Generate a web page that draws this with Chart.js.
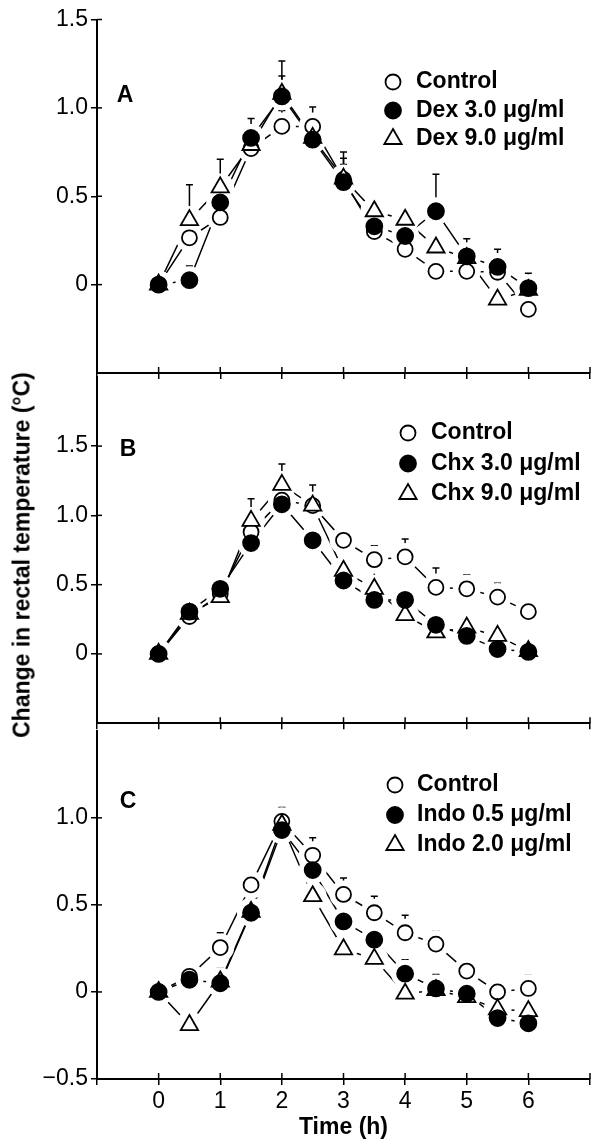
<!DOCTYPE html>
<html><head><meta charset="utf-8">
<script src="https://cdn.jsdelivr.net/npm/chart.js@4.4.1/dist/chart.umd.min.js"></script>
<style>
html,body{margin:0;padding:0;background:#fff;width:604px;height:1143px;overflow:hidden;position:relative;}
.pane{position:absolute;left:0;width:604px;}
canvas{display:block;}
#ytitle{position:absolute;left:22px;top:555px;font:bold 23px "Liberation Sans",Arial,sans-serif;white-space:nowrap;transform:translate(-50%,-50%) rotate(-90deg);color:#000;}
</style></head><body>
<div class="pane" style="top:0px;height:392px"><canvas id="cA" width="604" height="392"></canvas></div>
<div class="pane" style="top:360px;height:380px"><canvas id="cB" width="604" height="380"></canvas></div>
<div class="pane" style="top:714px;height:429px"><canvas id="cC" width="604" height="429"></canvas></div>
<div id="ytitle">Change in rectal temperature (°C)</div>
<script>
// ---- data ----
const times = [0,0.5,1,1.5,2,2.5,3,3.5,4,4.5,5,5.5,6];
const xTickVals = [-1,0,1,2,3,4,5,6,7];
const xTickLabels = ['', '0','1','2','3','4','5','6',''];

const aLabels = ['Control','Dex 3.0 μg/ml','Dex 9.0 μg/ml'];
const aControl = [0,0.265,0.38,0.77,0.895,0.895,0.595,0.30,0.20,0.075,0.075,0.07,-0.14];
const aDex3    = [0,0.025,0.465,0.83,1.065,0.82,0.58,0.33,0.275,0.415,0.16,0.10,-0.02];
const aDex9    = [0,0.365,0.55,0.79,1.08,0.83,0.60,0.415,0.367,0.21,0.15,-0.085,-0.03];
const aControlErr = [0,0.04,0.04,0.08,0.09,0.11,0.12,0.05,0.04,0.04,0.04,0.04,0.04];
const aDex3Err    = [0,0.08,0.06,0.11,0.20,0.06,0.10,0.05,0.05,0.21,0.10,0.10,0.085];
const aDex9Err    = [0,0.20,0.16,0.10,0.10,0.08,0.15,0.06,0.05,0.05,0.05,0.05,0.05];
const aYTicks = [0,0.5,1.0,1.5];

const bLabels = ['Control','Chx 3.0 μg/ml','Chx 9.0 μg/ml'];
const bControl = [0,0.27,0.435,0.88,1.11,1.07,0.82,0.68,0.70,0.48,0.47,0.41,0.305];
const bChx3    = [0,0.305,0.47,0.80,1.08,0.82,0.53,0.39,0.39,0.21,0.13,0.035,0.015];
const bChx9    = [0,0.29,0.41,0.96,1.22,1.07,0.60,0.47,0.28,0.155,0.19,0.13,0.02];
const bControlErr = [0,0.03,0.05,0.05,0.05,0.15,0.05,0.10,0.13,0.14,0.10,0.10,0.05];
const bChx3Err    = [0,0.04,0.08,0.04,0.04,0.04,0.04,0.04,0.04,0.04,0.04,0.04,0.04];
const bChx9Err    = [0,0.04,0.05,0.16,0.15,0.05,0.05,0.12,0.04,0.04,0.04,0.04,0.04];
const bYTicks = [0,0.5,1.0,1.5];

const cLabels = ['Control','Indo 0.5 μg/ml','Indo 2.0 μg/ml'];
const cControl = [0,0.09,0.255,0.615,0.98,0.785,0.56,0.455,0.34,0.275,0.12,0.0,0.02];
const cIndo05  = [0,0.07,0.05,0.455,0.93,0.70,0.405,0.30,0.105,0.02,-0.01,-0.15,-0.18];
const cIndo20  = [0,-0.19,0.06,0.46,0.96,0.55,0.245,0.19,-0.01,0.01,-0.03,-0.10,-0.11];
const cControlErr = [0,0.04,0.085,0.03,0.08,0.10,0.095,0.095,0.10,0.075,0.03,0.03,0.075];
const cIndo05Err  = [0,0.03,0.085,0.11,0.08,0.04,0.085,0.04,0.08,0.08,0.03,0.03,0.03];
const cIndo20Err  = [0,0.03,0.03,0.03,0.05,0.085,0.03,0.03,0.03,0.03,0.03,0.03,0.03];
const cYTicks = [-0.5,0,0.5,1.0];

// ---- styling ----
const FONT = '"Liberation Sans", Arial, sans-serif';
const MARKERS = [
  {style:'circle', radius:7.5, fill:'#fff', order:3},
  {style:'circle', radius:8, fill:'#000', order:1},
  {style:'triangle', radius:10, fill:'#fff', order:2}
];
const HALO = 14;

function fmtY(v){
  if (Math.abs(v) < 1e-9) return '0';
  return (v < 0 ? '\u2212' : '') + Math.abs(v).toFixed(1);
}

function drawSymbol(ctx, m, x, y){
  ctx.save();
  ctx.lineWidth = 1.8; ctx.strokeStyle = '#000'; ctx.fillStyle = m.fill;
  ctx.beginPath();
  if (m.style === 'circle') {
    ctx.arc(x, y, m.radius, 0, Math.PI*2);
  } else {
    const r = m.radius;
    for (let k=0;k<3;k++){
      const a = k*2*Math.PI/3;
      const px = x + Math.sin(a)*r, py = y - Math.cos(a)*r;
      if (k===0) ctx.moveTo(px,py); else ctx.lineTo(px,py);
    }
    ctx.closePath();
  }
  ctx.fill(); ctx.stroke();
  ctx.restore();
}

function makePanel(id, p){
  const datasets = [];
  p.series.forEach((s, i) => {
    const pts = times.map((t, k) => ({x:t, y:s.data[k]}));
    datasets.push({label:s.label+'-line', data:pts, showLine:true, pointRadius:0,
      borderColor:'#000', borderWidth:1.5, fill:false, order:30+i});
    datasets.push({label:s.label+'-halo', data:pts, showLine:false, pointRadius:HALO,
      pointBackgroundColor:'#fff', pointBorderColor:'#fff', pointBorderWidth:0, order:20+i});
    const m = MARKERS[i];
    datasets.push({label:s.label, data:pts, showLine:false, pointStyle:m.style, pointRadius:m.radius,
      pointBackgroundColor:m.fill, pointBorderColor:'#000', pointBorderWidth:1.8, order:m.order});
  });

  const panelPlugin = {
    id:'panelDeco',
    beforeDatasetsDraw(chart){
      const ctx = chart.ctx, xs = chart.scales.x, ys = chart.scales.y;
      ctx.save();
      ctx.strokeStyle = '#000'; ctx.lineWidth = 1.5;
      p.series.forEach(s => {
        times.forEach((t, k) => {
          const e = s.err[k]; if (!e) return;
          const px = xs.getPixelForValue(t);
          const y0 = ys.getPixelForValue(s.data[k]);
          const y1 = ys.getPixelForValue(s.data[k] + e);
          ctx.beginPath(); ctx.moveTo(px, y0); ctx.lineTo(px, y1);
          ctx.moveTo(px-3.5, y1); ctx.lineTo(px+3.5, y1); ctx.stroke();
        });
      });
      ctx.restore();
    },
    afterDraw(chart){
      const ctx = chart.ctx, xs = chart.scales.x, ys = chart.scales.y, ca = chart.chartArea;
      ctx.save();
      ctx.strokeStyle = '#000'; ctx.lineWidth = 1.5;
      xs.ticks.forEach(tk => {
        const px = xs.getPixelForValue(tk.value);
        ctx.beginPath(); ctx.moveTo(px, ca.bottom); ctx.lineTo(px, ca.bottom-6); ctx.stroke();
      });
      ys.ticks.forEach(tk => {
        const py = ys.getPixelForValue(tk.value);
        ctx.beginPath(); ctx.moveTo(ca.left, py); ctx.lineTo(ca.left+5, py); ctx.stroke();
      });
      ctx.fillStyle = '#000';
      ctx.font = 'bold 23px ' + FONT;
      ctx.textAlign = 'center'; ctx.textBaseline = 'middle';
      ctx.fillText(p.letter, p.letterPos[0], p.letterPos[1]);
      ctx.textAlign = 'left';
      p.series.forEach((s, i) => {
        const y = p.legend.y + i*p.legend.gap;
        drawSymbol(ctx, MARKERS[i], p.legend.x, y);
        ctx.fillStyle = '#000';
        ctx.fillText(s.label, p.legend.textX, y);
      });
      ctx.restore();
    }
  };

  return new Chart(document.getElementById(id), {
    type:'scatter',
    data:{datasets},
    options:{
      responsive:false, animation:false, events:[],
      layout:{padding:{top:p.padTop, right:2, left:0, bottom:0}},
      plugins:{legend:{display:false}, tooltip:{enabled:false}},
      scales:{
        x:{type:'linear', min:-1, max:7,
          afterBuildTicks: s => { s.ticks = xTickVals.map(v => ({value:v})); },
          afterFit: s => { s.height = p.xHeight; },
          grid:{drawOnChartArea:false, drawTicks:true, tickLength:6, color:'#000', lineWidth:1.5},
          border:{display:true, color:'#000', width:2},
          ticks:{display:p.showX, autoSkip:false, maxRotation:0, color:'#000', padding:3,
            font:{family:FONT, size:23},
            callback:(v) => { const k = xTickVals.indexOf(v); return k >= 0 ? xTickLabels[k] : ''; }},
          title:{display:p.showX, text:'Time (h)', color:'#000', font:{family:FONT, size:23, weight:'bold'}, padding:{top:0,bottom:2}}
        },
        y:{type:'linear', min:p.yMin, max:p.yMax,
          afterBuildTicks: s => { s.ticks = p.yTicks.map(v => ({value:v})); },
          afterFit: s => { s.width = 97; },
          grid:{drawOnChartArea:false, drawTicks:true, tickLength:6, color:'#000', lineWidth:1.5},
          border:{display:true, color:'#000', width:2},
          ticks:{color:'#000', padding:3, font:{family:FONT, size:23}, callback: v => fmtY(v)}
        }
      }
    },
    plugins:[panelPlugin]
  });
}

makePanel('cA', {
  series:[{label:aLabels[0], data:aControl, err:aControlErr},
          {label:aLabels[1], data:aDex3, err:aDex3Err},
          {label:aLabels[2], data:aDex9, err:aDex9Err}],
  yMin:-0.5, yMax:1.5, yTicks:aYTicks, padTop:19.5, xHeight:19, showX:false,
  letter:'A', letterPos:[125,96], legend:{x:393, y:82, gap:28.5, textX:416}
});
makePanel('cB', {
  series:[{label:bLabels[0], data:bControl, err:bControlErr},
          {label:bLabels[1], data:bChx3, err:bChx3Err},
          {label:bLabels[2], data:bChx9, err:bChx9Err}],
  yMin:-0.5, yMax:2.0, yTicks:bYTicks, padTop:13, xHeight:13, showX:false,
  letter:'B', letterPos:[128,90], legend:{x:408, y:73, gap:30.5, textX:431}
});
makePanel('cC', {
  series:[{label:cLabels[0], data:cControl, err:cControlErr},
          {label:cLabels[1], data:cIndo05, err:cIndo05Err},
          {label:cLabels[2], data:cIndo20, err:cIndo20Err}],
  yMin:-0.5, yMax:1.5, yTicks:cYTicks, padTop:13, xHeight:64, showX:true,
  letter:'C', letterPos:[128,88], legend:{x:395, y:71, gap:30, textX:417}
});
</script>
</body></html>
